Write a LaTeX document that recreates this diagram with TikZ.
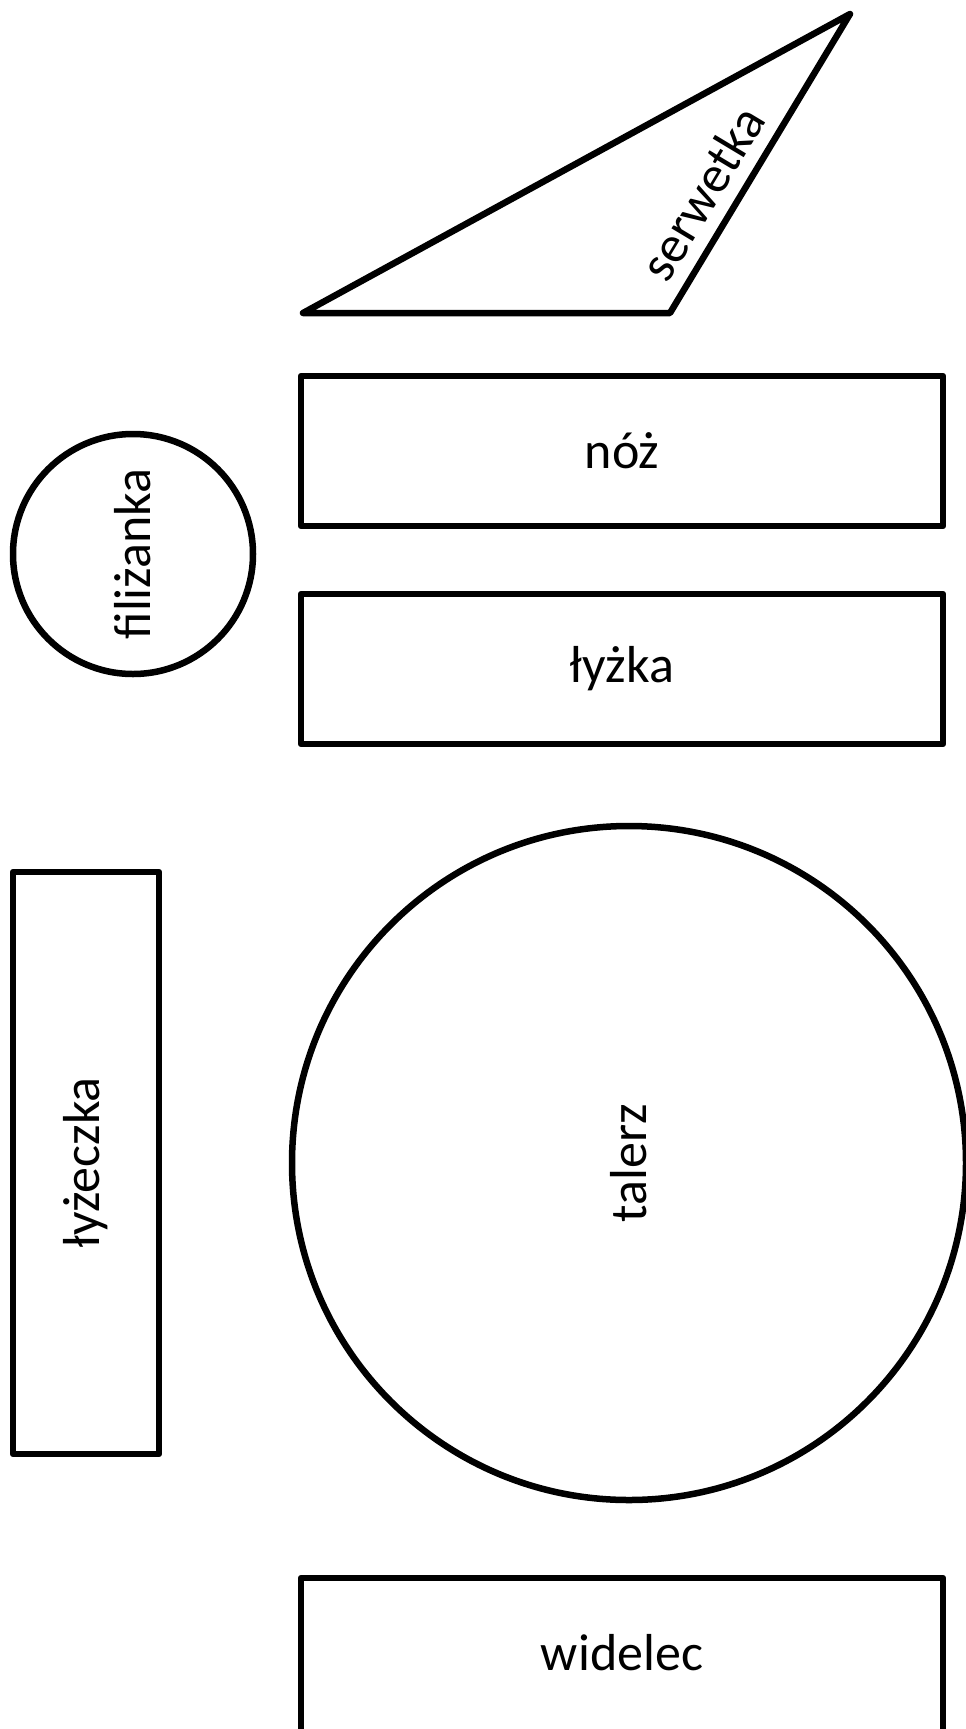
\documentclass[tikz,border=0pt]{standalone}
\usepackage{fontspec}
\setmainfont{Carlito}
\begin{document}
\begin{tikzpicture}[x=1pt, y=-1pt,
  item/.style={draw, line width=6.5pt, line join=round, inner sep=0pt,
               font=\fontsize{52}{62}\selectfont},
  box/.style={item, rectangle, minimum width=642pt, minimum height=150pt},
  cup/.style={item, circle, minimum size=#1},
  lbl/.style={font=\fontsize{52}{62}\selectfont, inner sep=0pt},
]
\useasboundingbox (0,0) rectangle (966,1729);

% ---- Napkin ----------------------------------------------------------------
\coordinate (napA) at (303,313);
\coordinate (napB) at (850,14);
\coordinate (napC) at (670,313);
\draw[line width=6.5pt, line join=round] (napA) -- (napB) -- (napC) -- cycle;
\node[lbl, rotate=59] (napkin) at (702,193) {serwetka};

% ---- Knife and spoon -------------------------------------------------------
\node[box] (knife) at (622,451) {nóż};
\node[box] (spoon) at (622,669) {łyżka};

% ---- Cup -------------------------------------------------------------------
\node[cup=240pt, rotate=90] (cup) at (133,554) {filiżanka};

% ---- Teaspoon --------------------------------------------------------------
\node[item, rectangle, rotate=90, minimum width=582pt, minimum height=146pt]
  (teaspoon) at (86,1163) {łyżeczka};

% ---- Plate -----------------------------------------------------------------
\node[cup=674pt, rotate=90] (plate) at (629,1163) {talerz};

% ---- Fork ------------------------------------------------------------------
\node[box, minimum height=158pt] (fork) at (622,1657) {};
\node[lbl] (forklbl) at (622,1653) {widelec};

\end{tikzpicture}
\end{document}
